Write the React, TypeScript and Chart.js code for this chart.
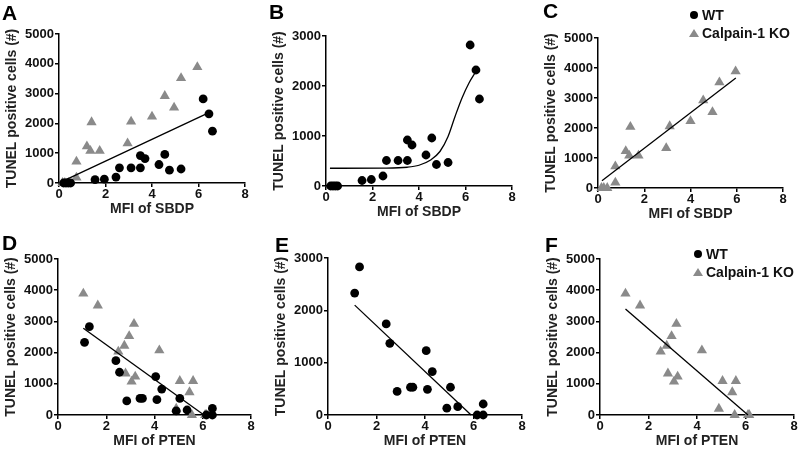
import React, { useEffect, useRef } from "react";
import { Chart, registerables } from "chart.js";

Chart.register(...registerables);

// ---------- data ----------
const xTickValues = [0, 2, 4, 6, 8];

// MFI of SBDP vs TUNEL, WT (black circles)
const sbdpWtX = [0.2, 0.3, 0.4, 0.5, 1.55, 1.95, 2.45, 2.6, 3.1, 3.5, 3.5, 3.7, 4.3, 4.55, 4.75, 5.25, 6.2, 6.45, 6.6];
const sbdpWtY = [0, 0, 0, 0, 110, 130, 200, 510, 510, 510, 920, 820, 620, 960, 430, 470, 2820, 2320, 1740];

// MFI of SBDP vs TUNEL, Calpain-1 KO (grey triangles)
const sbdpKoX = [0.15, 0.25, 0.4, 0.75, 0.75, 1.2, 1.35, 1.4, 1.75, 2.95, 3.1, 4.0, 4.55, 4.95, 5.25, 5.95];
const sbdpKoY = [0, 0, 0, 180, 720, 1230, 1080, 2040, 1080, 1330, 2060, 2230, 2920, 2530, 3520, 3890];

// MFI of PTEN vs TUNEL, WT
const ptenWtX = [1.1, 1.3, 2.4, 2.55, 2.85, 3.4, 3.5, 4.05, 4.1, 4.3, 4.9, 5.05, 5.35, 6.15, 6.4, 6.4];
const ptenWtY = [2330, 2830, 1740, 1370, 450, 530, 530, 1230, 490, 830, 130, 530, 160, 0, 0, 210];

// MFI of PTEN vs TUNEL, Calpain-1 KO
const ptenKoX = [1.05, 1.65, 2.5, 2.75, 2.95, 3.15, 2.8, 3.05, 3.2, 4.2, 4.9, 5.05, 5.45, 5.6, 5.55, 6.1, 6.15];
const ptenKoY = [3890, 3510, 2030, 2220, 2530, 2920, 1330, 1070, 1230, 2070, 200, 1090, 730, 1090, 0, 0, 0];

// fitted lines / curve
const fitAX = [0.05, 6.45];
const fitAY = [20, 2360];
const fitBX = [0.17, 2.5, 3.5, 4.0, 4.5, 4.9, 5.25, 5.55, 5.85, 6.15, 6.45];
const fitBY = [355, 358, 375, 415, 520, 690, 990, 1390, 1760, 2060, 2290];
const fitCX = [0.17, 5.96];
const fitCY = [240, 3670];
const fitDX = [1.05, 6.05];
const fitDY = [2780, 0];
const fitEX = [1.1, 5.9];
const fitEY = [2100, 0];
const fitFX = [1.05, 6.1];
const fitFY = [3400, 0];

const legendLabels = ["WT", "Calpain-1 KO"];
const yTitle = "TUNEL positive cells (#)";
const xTitleSbdp = "MFI of SBDP";
const xTitlePten = "MFI of PTEN";

// ---------- style ----------
const FONT = "'Liberation Sans', Arial, Helvetica, sans-serif";
const TICK_SIZE = 13;
const TITLE_SIZE = 14;
const GREY = "#8a8a8a";
const W = 800;
const H = 450;

const toPts = (xs: number[], ys: number[]) => xs.map((x, i) => ({ x, y: ys[i] }));

const lineDs = (xs: number[], ys: number[], smooth = false) => ({
  type: "scatter" as const,
  data: toPts(xs, ys),
  showLine: true,
  borderColor: "#000",
  borderWidth: 1.3,
  pointRadius: 0,
  cubicInterpolationMode: smooth ? ("monotone" as const) : ("default" as const),
  clip: false as any,
});

const wtDs = (xs: number[], ys: number[]) => ({
  type: "scatter" as const,
  data: toPts(xs, ys),
  pointStyle: "circle" as const,
  pointRadius: 4.4,
  backgroundColor: "#000",
  borderColor: "#000",
  borderWidth: 0,
  clip: false as any,
});

const koDs = (xs: number[], ys: number[]) => ({
  type: "scatter" as const,
  data: toPts(xs, ys),
  pointStyle: "triangle" as const,
  pointRadius: 5.9,
  backgroundColor: GREY,
  borderColor: GREY,
  borderWidth: 0,
  clip: false as any,
});

type PanelDef = {
  letter: string;
  letterX: number;
  letterY: number;
  left: number;
  right: number;
  top: number;
  bottom: number;
  yMax: number;
  xTitle: string;
  datasets: any[];
  legend?: { x: number; y: number };
};

const panels: PanelDef[] = [
  {
    letter: "A", letterX: 2, letterY: 5,
    left: 59, right: 245, top: 34, bottom: 183, yMax: 5000, xTitle: xTitleSbdp,
    datasets: [lineDs(fitAX, fitAY), wtDs(sbdpWtX, sbdpWtY), koDs(sbdpKoX, sbdpKoY)],
  },
  {
    letter: "B", letterX: 269, letterY: 4,
    left: 326, right: 512, top: 36, bottom: 186, yMax: 3000, xTitle: xTitleSbdp,
    datasets: [lineDs(fitBX, fitBY, true), wtDs(sbdpWtX, sbdpWtY)],
  },
  {
    letter: "C", letterX: 543, letterY: 3,
    left: 598, right: 783, top: 38, bottom: 188, yMax: 5000, xTitle: xTitleSbdp,
    datasets: [lineDs(fitCX, fitCY), koDs(sbdpKoX, sbdpKoY)],
    legend: { x: 694, y: 15 },
  },
  {
    letter: "D", letterX: 2, letterY: 235,
    left: 58, right: 251, top: 259, bottom: 415, yMax: 5000, xTitle: xTitlePten,
    datasets: [lineDs(fitDX, fitDY), wtDs(ptenWtX, ptenWtY), koDs(ptenKoX, ptenKoY)],
  },
  {
    letter: "E", letterX: 275, letterY: 237,
    left: 328, right: 522, top: 258, bottom: 415, yMax: 3000, xTitle: xTitlePten,
    datasets: [lineDs(fitEX, fitEY), wtDs(ptenWtX, ptenWtY)],
  },
  {
    letter: "F", letterX: 545, letterY: 237,
    left: 600, right: 795, top: 259, bottom: 415, yMax: 5000, xTitle: xTitlePten,
    datasets: [lineDs(fitFX, fitFY), koDs(ptenKoX, ptenKoY)],
    legend: { x: 698, y: 254 },
  },
];

const Y_TITLE_OFFSET = 47; // distance from y axis to y-title centre
const X_TITLE_OFFSET = 26.5; // distance from x axis to x-title centre

function PanelChart({ p }: { p: PanelDef }) {
  const ref = useRef<HTMLCanvasElement>(null);
  useEffect(() => {
    if (!ref.current) return;
    const lh = TITLE_SIZE * 1.2;
    const padLeft = p.left - Y_TITLE_OFFSET - lh / 2;
    const xBoxBottom = p.bottom + X_TITLE_OFFSET + lh / 2;
    const tickFont = { family: FONT, size: TICK_SIZE, weight: "bold" as const };
    const titleFont = { family: FONT, size: TITLE_SIZE, weight: "bold" as const };
    const chart = new Chart(ref.current, {
      type: "scatter",
      data: { datasets: p.datasets },
      options: {
        responsive: false,
        animation: false,
        devicePixelRatio: 1,
        events: [],
        layout: {
          padding: {
            left: padLeft,
            right: W - p.right,
            top: p.top,
            bottom: Math.max(0, H - xBoxBottom),
          },
        },
        plugins: { legend: { display: false }, tooltip: { enabled: false } },
        scales: {
          x: {
            type: "linear",
            min: 0,
            max: 8,
            afterBuildTicks: (s: any) => {
              s.ticks = xTickValues.map((v) => ({ value: v }));
            },
            ticks: {
              font: tickFont,
              color: "#111",
              padding: 0,
              maxRotation: 0,
              callback: (v: any) => String(v),
            },
            grid: { drawOnChartArea: false, drawTicks: true, tickLength: 4, color: "#000", lineWidth: 1.5 },
            border: { display: true, color: "#000", width: 1.5 },
            title: { display: true, text: p.xTitle, font: titleFont, color: "#222", padding: 0 },
            afterFit: (s: any) => {
              s.height = xBoxBottom - p.bottom;
            },
          },
          y: {
            type: "linear",
            min: 0,
            max: p.yMax,
            ticks: {
              stepSize: 1000,
              font: tickFont,
              color: "#111",
              padding: 1,
              callback: (v: any) => String(v),
            },
            grid: { drawOnChartArea: false, drawTicks: true, tickLength: 4, color: "#000", lineWidth: 1.5 },
            border: { display: true, color: "#000", width: 1.5 },
            title: { display: true, text: yTitle, font: titleFont, color: "#222", padding: 0 },
            afterFit: (s: any) => {
              s.width = p.left - padLeft;
            },
          },
        },
      } as any,
    });
    return () => chart.destroy();
  }, [p]);
  return (
    <canvas
      ref={ref}
      width={W}
      height={H}
      style={{ position: "absolute", left: 0, top: 0, width: W, height: H }}
    />
  );
}

function Legend({ x, y }: { x: number; y: number }) {
  const textStyle: React.CSSProperties = {
    position: "absolute",
    fontFamily: FONT,
    fontWeight: "bold",
    fontSize: 14,
    lineHeight: "14px",
    color: "#111",
    whiteSpace: "nowrap",
    left: x + 8,
  };
  return (
    <>
      <div
        style={{
          position: "absolute",
          left: x - 4,
          top: y - 4,
          width: 8,
          height: 8,
          borderRadius: "50%",
          background: "#000",
        }}
      />
      <div style={{ ...textStyle, top: y - 7 }}>{legendLabels[0]}</div>
      <div
        style={{
          position: "absolute",
          left: x - 5,
          top: y + 18 - 4.5,
          width: 0,
          height: 0,
          borderLeft: "5px solid transparent",
          borderRight: "5px solid transparent",
          borderBottom: `8px solid ${GREY}`,
        }}
      />
      <div style={{ ...textStyle, top: y + 18 - 7 }}>{legendLabels[1]}</div>
    </>
  );
}

export default function App() {
  return (
    <div
      style={{
        position: "fixed",
        left: 0,
        top: 0,
        width: W,
        height: H,
        background: "#fff",
        overflow: "hidden",
      }}
    >
      {panels.map((p) => (
        <PanelChart key={p.letter} p={p} />
      ))}
      {panels.map((p) => (
        <div
          key={"l" + p.letter}
          style={{
            position: "absolute",
            left: p.letterX,
            top: p.letterY - 2.8,
            fontFamily: FONT,
            fontWeight: "bold",
            fontSize: 21,
            lineHeight: "21px",
            color: "#000",
          }}
        >
          {p.letter}
        </div>
      ))}
      {panels.map((p) => (p.legend ? <Legend key={"g" + p.letter} x={p.legend.x} y={p.legend.y} /> : null))}
    </div>
  );
}
